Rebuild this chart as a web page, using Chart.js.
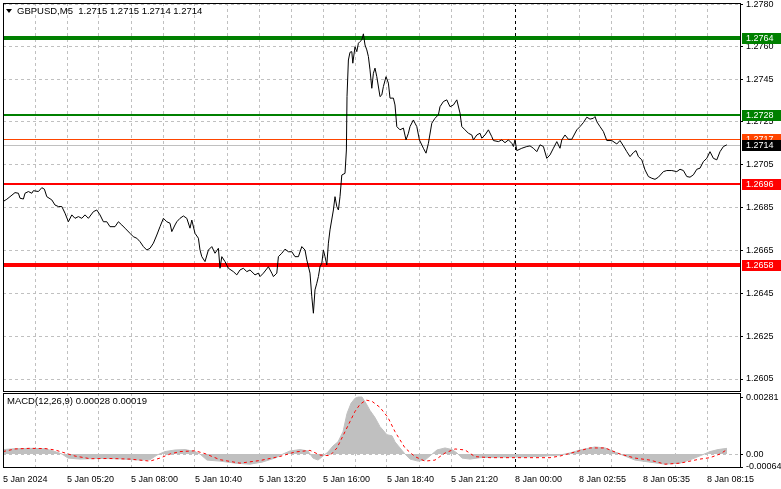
<!DOCTYPE html>
<html>
<head>
<meta charset="utf-8">
<script src="https://cdn.jsdelivr.net/npm/chart.js@4.4.1/dist/chart.umd.min.js"></script>
<style>
  html, body { margin: 0; padding: 0; background: #fff; }
  #wrap { position: relative; width: 781px; height: 489px; overflow: hidden; }
  #priceBox { position: absolute; left: 0; top: 0; width: 781px; height: 392px; }
  #macdBox { position: absolute; left: 0; top: 392px; width: 781px; height: 97px; }
</style>
</head>
<body>
<div id="wrap">
  <div id="priceBox"><canvas id="priceChart"></canvas></div>
  <div id="macdBox"><canvas id="macdChart"></canvas></div>
</div>
<script>
// GBPUSD M5, 5 Jan - 8 Jan 2024. x is the bar number (one bar = 5 minutes)
const symbolTitle = "GBPUSD,M5  1.2715 1.2715 1.2714 1.2714";
const macdTitle = "MACD(12,26,9) 0.00028 0.00019";

const timeLabels = ["5 Jan 2024", "5 Jan 05:20", "5 Jan 08:00", "5 Jan 10:40", "5 Jan 13:20", "5 Jan 16:00",
  "5 Jan 18:40", "5 Jan 21:20", "8 Jan 00:00", "8 Jan 02:55", "8 Jan 05:35", "8 Jan 08:15"];
const priceTicks = [1.2605, 1.2625, 1.2645, 1.2665, 1.2685, 1.2705, 1.2725, 1.2745, 1.2760, 1.2780];
const macdTicks = [-0.00064, 0, 0.00281];

const priceBars = [
  0, 1.9, 3.5, 6, 7.7, 8.5, 10.2, 11, 12.7, 14.4,
  15.2, 17.7, 19.4, 20.7, 21.9, 24.4, 26, 27.7, 29.4, 31,
  32.7, 34.4, 36, 37.7, 39.4, 41, 42.7, 45.2, 46.9, 48.5,
  50.2, 51.9, 53.5, 56, 57.7, 59.4, 61, 63.5, 65.2, 66.9,
  68.5, 70.2, 71.9, 73.5, 75.2, 76.9, 78.5, 80.2, 81.9, 83.5,
  84.4, 86, 86.9, 88.5, 90.2, 91.9, 93.5, 94.4, 96, 97.7,
  98.5, 99.4, 101, 102.7, 104.4, 106, 107.7, 108.5, 109.4, 111,
  112.7, 115.2, 116.9, 118.5, 120.2, 121.9, 123.5, 126, 127.7, 128.5,
  130.2, 132.7, 134.4, 135.2, 136.9, 137.7, 139.4, 141, 142.7, 144.4,
  146, 147.7, 149.4, 151, 151.9, 153.5, 154.4, 155.2, 156, 156.9,
  157.7, 158.5, 159.4, 160.2, 161, 161.9, 162.7, 163.5, 165.2, 166,
  166.9, 167.7, 168.5, 169.4, 171, 171.7, 172, 172.7, 173.5, 174.4,
  174.9, 176, 176.9, 177.7, 178.5, 179.4, 180.2, 181, 181.9, 182.7,
  183.5, 184.4, 185.2, 186, 186.9, 188.5, 189.4, 190.2, 191.5, 192.7,
  193.5, 195.2, 196, 196.9, 198.5, 200.2, 201.5, 202.7, 203.5, 205.2,
  206, 206.9, 208.2, 210.2, 211.5, 212.7, 214.4, 216, 217.7, 218.5,
  220.2, 221.9, 223.5, 225.2, 226.9, 228.5, 229.4, 231, 232.7, 234.4,
  235.2, 236.9, 238.5, 239.4, 241, 242.7, 244.4, 245.2, 247.7, 249.4,
  251, 252.7, 254.4, 255.2, 256, 256.9, 259.4, 261.9, 263.5, 265.2,
  266.9, 268.5, 270.2, 271.9, 273.5, 275.2, 276.9, 278.5, 279.4, 281,
  282.7, 284.4, 286.9, 288.5, 290.2, 291.9, 293.5, 295.2, 296, 296.9,
  298.5, 300.2, 301.9, 304.4, 306.9, 308.5, 310.2, 311.9, 313.5, 315.2,
  316.5, 317.7, 319.4, 321, 322.7, 324.4, 326, 327.7, 330.2, 331.9,
  334.4, 336.9, 338.5, 340.2, 341.9, 343.5, 345.2, 346.9, 348.5, 350.2,
  351.9, 353.5, 355.2, 356.9, 358.5, 360.2, 361.9
];
const priceValues = [
  1.26878, 1.26889, 1.26901, 1.26920, 1.26917, 1.26894, 1.26890, 1.26917, 1.26925, 1.26917,
  1.26929, 1.26925, 1.26943, 1.26936, 1.26901, 1.26886, 1.26862, 1.26855, 1.26855, 1.26824,
  1.26784, 1.26816, 1.26800, 1.26808, 1.26800, 1.26816, 1.26800, 1.26831, 1.26839, 1.26816,
  1.26784, 1.26784, 1.26761, 1.26761, 1.26784, 1.26769, 1.26754, 1.26730, 1.26714, 1.26707,
  1.26691, 1.26668, 1.26652, 1.26660, 1.26684, 1.26722, 1.26761, 1.26800, 1.26784, 1.26777,
  1.26738, 1.26769, 1.26784, 1.26800, 1.26811, 1.26800, 1.26754, 1.26792, 1.26730, 1.26707,
  1.26652, 1.26621, 1.26598, 1.26652, 1.26668, 1.26637, 1.26660, 1.26567, 1.26621, 1.26598,
  1.26567, 1.26551, 1.26536, 1.26559, 1.26567, 1.26551, 1.26559, 1.26536, 1.26544, 1.26528,
  1.26544, 1.26574, 1.26544, 1.26528, 1.26544, 1.26621, 1.26637, 1.26656, 1.26644, 1.26644,
  1.26621, 1.26621, 1.26668, 1.26652, 1.26606, 1.26544, 1.26434, 1.26357, 1.26466, 1.26497,
  1.26528, 1.26574, 1.26590, 1.26652, 1.26621, 1.26582, 1.26684, 1.26746, 1.26839, 1.26901,
  1.26855, 1.26839, 1.26901, 1.27002, 1.27010, 1.27119, 1.27368, 1.27539, 1.27575, 1.27578,
  1.27524, 1.27601, 1.27578, 1.27617, 1.27625, 1.27633, 1.27661, 1.27609, 1.27586, 1.27555,
  1.27493, 1.27407, 1.27477, 1.27501, 1.27461, 1.27368, 1.27376, 1.27415, 1.27461, 1.27431,
  1.27361, 1.27361, 1.27329, 1.27228, 1.27213, 1.27221, 1.27166, 1.27197, 1.27228, 1.27259,
  1.27244, 1.27228, 1.27166, 1.27127, 1.27104, 1.27150, 1.27244, 1.27267, 1.27283, 1.27321,
  1.27345, 1.27353, 1.27321, 1.27329, 1.27353, 1.27291, 1.27228, 1.27213, 1.27197, 1.27189,
  1.27166, 1.27189, 1.27197, 1.27174, 1.27189, 1.27213, 1.27181, 1.27163, 1.27158, 1.27166,
  1.27153, 1.27166, 1.27150, 1.27135, 1.27166, 1.27116, 1.27127, 1.27135, 1.27138, 1.27127,
  1.27111, 1.27143, 1.27135, 1.27080, 1.27096, 1.27127, 1.27158, 1.27127, 1.27166, 1.27189,
  1.27169, 1.27169, 1.27213, 1.27228, 1.27247, 1.27272, 1.27263, 1.27267, 1.27275, 1.27251,
  1.27228, 1.27205, 1.27163, 1.27163, 1.27147, 1.27163, 1.27138, 1.27111, 1.27088, 1.27107,
  1.27116, 1.27088, 1.27073, 1.27026, 1.26995, 1.26987, 1.26982, 1.26992, 1.27018, 1.27023,
  1.27023, 1.27018, 1.27029, 1.27023, 1.26995, 1.26992, 1.27003, 1.27029, 1.27034, 1.27065,
  1.27080, 1.27111, 1.27080, 1.27073, 1.27111, 1.27135, 1.27143
];

const resistanceLevels = [1.2764, 1.2728];
const supportLevels = [1.2696, 1.2658];
const askPrice = 1.2717;
const bidPrice = 1.2714;

const macdBars = [
  0, 6, 13.5, 21, 26, 29.5, 32.5, 38.5, 48.5, 58.5,
  68.5, 73.5, 77, 81, 86, 91, 96, 98.5, 102, 108.5,
  116, 123.5, 129.5, 136, 140, 143.5, 148.5, 152.5, 155, 157.5,
  160, 162.5, 165, 167.5, 170, 172, 174, 176, 177.5, 179.5,
  181.5, 183.5, 186, 188.5, 192, 194.5, 196, 198.5, 201, 203.5,
  207.5, 211, 214, 217, 221, 224.5, 227, 229.5, 233.5, 238.5,
  248.5, 258.5, 268.5, 278.5, 283.5, 288.5, 296, 301, 306, 311,
  316, 323.5, 331, 338.5, 344.5, 349.5, 353.5, 357.5, 362
];
const macdValues = [
  0.00022, 0.00026, 0.00028, 0.00026, 0.00012, 0, -0.0002, -0.00025, -0.00022, -0.00024,
  -0.0003, -0.00028, -0.00005, 0.00012, 0.0002, 0.00022, 0.00012, 0, -0.0003, -0.00035,
  -0.00045, -0.0005, -0.0004, -0.0002, 0, 0.00015, 0.00022, 0.00015, -0.0002, -0.0003,
  -0.0001, 0.0001, 0.0004, 0.0006, 0.0011, 0.002, 0.0025, 0.00275, 0.00281, 0.00281,
  0.0025, 0.00215, 0.0018, 0.00135, 0.00095, 0.0009, 0.0006, 0.0003, 0, -0.00025,
  -0.00035, -0.0003, -0.00005, 0.0002, 0.0003, 0.00022, 0.00005, -0.0002, -0.00025, -0.00018,
  -0.00015, -0.00015, -0.00012, -0.00005, 0.00005, 0.0002, 0.00035, 0.0003, 0.0001, -0.0001,
  -0.0003, -0.0004, -0.0005, -0.00045, -0.00025, -0.00005, 0.00012, 0.00022, 0.00028
];
const signalBars = [
  0, 6, 13.5, 21, 26, 31, 36, 43.5, 53.5, 63.5,
  73.5, 78.5, 83.5, 88.5, 96, 101, 108.5, 118.5, 128.5, 138.5,
  146, 153.5, 158.5, 163.5, 167, 171, 173.5, 176, 178.5, 181.5,
  184.5, 188.5, 192.5, 196, 198.5, 201, 206, 211, 216, 221,
  226, 231, 236, 243.5, 258.5, 273.5, 278.5, 286, 293.5, 301,
  308.5, 316, 323.5, 331, 338.5, 348.5, 353.5, 358.5, 361.5
];
const signalValues = [
  0.00012, 0.00025, 0.00028, 0.00027, 0.0002, 0.00005, -0.0001, -0.00023, -0.00022, -0.00025,
  -0.00035, -0.0002, 0, 0.00012, 0.00016, 0.00002, -0.00028, -0.00045, -0.00032, -0.00012,
  0.0001, 0.00018, -0.00005, -0.00008, 0.0003, 0.0011, 0.0016, 0.0021, 0.00245, 0.00266,
  0.0026, 0.0023, 0.0018, 0.0011, 0.0007, 0.0003, -0.00013, -0.00035, -0.0003, 0.00005,
  0.00025, 0.0002, -0.00013, -0.00018, -0.00018, -0.00018, -0.0001, 0.0001, 0.0003, 0.0003,
  0, -0.0002, -0.0003, -0.0005, -0.00045, -0.00025, -0.00018, 0, 0.00019
];

Chart.defaults.font.family = "'Liberation Sans', Arial, sans-serif";
Chart.defaults.font.size = 9;
Chart.defaults.color = "#000";

const GRID = "#c0c0c0";
const LAST_BAR = 368.5;
const toPoints = (xs, ys) => xs.map((x, i) => ({ x: x, y: ys[i] }));
const noOverhang = axis => {
  axis.paddingTop = 0; axis.paddingBottom = 0;
  axis.paddingLeft = 0; axis.paddingRight = 0;
};

function timeAxis(showLabels) {
  return {
    type: "linear", min: 0, max: LAST_BAR,
    afterBuildTicks: axis => {
      const t = [];
      for (let v = 0; v <= 352; v += 16) t.push({ value: v });
      axis.ticks = t;
    },
    afterFit: axis => { axis.height = showLabels ? 22 : 0; noOverhang(axis); },
    grid: { color: c => (c.tick && c.tick.value === 256 ? "#000" : GRID), drawTicks: false },
    border: { display: false, dash: [3, 3] },
    ticks: {
      display: showLabels, autoSkip: false, maxRotation: 0, align: "start", padding: 7,
      callback: v => (v % 32 === 0 ? timeLabels[v / 32] : "")
    }
  };
}

// horizontal price levels: value -> colour / thickness
function levelList() {
  const out = [];
  out.push({ v: resistanceLevels[0], c: "#008000", w: 4 });
  out.push({ v: resistanceLevels[1], c: "#008000", w: 2 });
  out.push({ v: supportLevels[0], c: "#ff0000", w: 2 });
  out.push({ v: supportLevels[1], c: "#ff0000", w: 4 });
  out.push({ v: askPrice, c: "#ff4500", w: 1 });
  out.push({ v: bidPrice, c: "#c0c0c0", w: 1 });
  return out;
}

const levelPlugin = {
  id: "levels",
  beforeDatasetsDraw(chart) {
    const { ctx, chartArea: a, scales: { y } } = chart;
    ctx.save();
    ctx.beginPath();
    ctx.rect(a.left, a.top, a.right - a.left, a.bottom - a.top);
    ctx.clip();
    levelList().forEach(l => {
      const py = y.getPixelForValue(l.v);
      const yy = l.w % 2 ? Math.floor(py) + 0.5 : Math.round(py);
      ctx.strokeStyle = l.c;
      ctx.lineWidth = l.w;
      ctx.beginPath();
      ctx.moveTo(a.left, yy);
      ctx.lineTo(a.right + 1, yy);
      ctx.stroke();
    });
    ctx.restore();
  },
  afterDraw(chart) {
    const { ctx, chartArea: a, scales: { y } } = chart;
    const tags = levelList().map(l => ({ v: l.v, bg: l.c === "#c0c0c0" ? "#000000" : l.c }));
    ctx.save();
    ctx.font = "9px 'Liberation Sans', Arial, sans-serif";
    ctx.textBaseline = "middle";
    tags.forEach(t => {
      const py = Math.round(y.getPixelForValue(t.v));
      ctx.fillStyle = t.bg;
      ctx.fillRect(a.right + 2, py - 5, 781 - a.right - 2, 11);
      ctx.fillStyle = "#fff";
      ctx.fillText(t.v.toFixed(4), 746, py + 0.5);
    });
    // header
    ctx.fillStyle = "#000";
    ctx.beginPath();
    ctx.moveTo(6, 9); ctx.lineTo(12, 9); ctx.lineTo(9, 13); ctx.closePath();
    ctx.fill();
    ctx.font = "9.5px 'Liberation Sans', Arial, sans-serif";
    ctx.fillText(symbolTitle, 17, 11);
    ctx.restore();
  }
};

const framePlugin = {
  id: "frame",
  afterDraw(chart) {
    const { ctx, chartArea: a } = chart;
    ctx.save();
    ctx.strokeStyle = "#000";
    ctx.lineWidth = 1;
    ctx.strokeRect(a.left + 0.5, a.top + 0.5, a.right - a.left, a.bottom - a.top);
    ctx.restore();
  }
};

const macdTextPlugin = {
  id: "macdText",
  afterDraw(chart) {
    const { ctx } = chart;
    ctx.save();
    ctx.fillStyle = "#000";
    ctx.font = "9.5px 'Liberation Sans', Arial, sans-serif";
    ctx.textBaseline = "middle";
    ctx.fillText(macdTitle, 7, 9);
    ctx.restore();
  }
};

const priceChart = new Chart("priceChart", {
  type: "line",
  data: {
    datasets: [
      { data: toPoints(priceBars, priceValues), borderColor: "#000", borderWidth: 1 }
    ]
  },
  options: {
    responsive: true, maintainAspectRatio: false, animation: false,
    layout: { padding: { left: 3, top: 3, right: 0, bottom: 1 } },
    elements: { point: { radius: 0 }, line: { tension: 0 } },
    plugins: { legend: { display: false }, tooltip: { enabled: false } },
    scales: {
      x: timeAxis(false),
      y: {
        position: "right", min: 1.25994, max: 1.27805,
        afterBuildTicks: axis => { axis.ticks = priceTicks.map(v => ({ value: v })); },
        afterFit: axis => { axis.width = 41; noOverhang(axis); },
        grid: { color: GRID, tickLength: 3, tickColor: "#000", tickBorderDash: [] },
        border: { display: false, dash: [3, 3] },
        ticks: { padding: 3, callback: v => v.toFixed(4) }
      }
    }
  },
  plugins: [levelPlugin, framePlugin]
});

const macdChart = new Chart("macdChart", {
  type: "line",
  data: {
    datasets: [
      { data: toPoints(signalBars, signalValues), borderColor: "#ff0000", borderWidth: 1, borderDash: [3, 3] },
      { data: toPoints(macdBars, macdValues), borderColor: "#c0c0c0", backgroundColor: "#c0c0c0",
        borderWidth: 1, fill: "origin" }
    ]
  },
  options: {
    responsive: true, maintainAspectRatio: false, animation: false,
    layout: { padding: { left: 3, top: 1, right: 0, bottom: 0 } },
    elements: { point: { radius: 0 }, line: { tension: 0 } },
    plugins: { legend: { display: false }, tooltip: { enabled: false } },
    scales: {
      x: timeAxis(true),
      y: {
        position: "right", min: -0.00064, max: 0.00301,
        afterBuildTicks: axis => { axis.ticks = macdTicks.map(v => ({ value: v })); },
        afterFit: axis => { axis.width = 41; noOverhang(axis); },
        grid: { color: c => (c.tick && c.tick.value === 0 ? GRID : "rgba(0,0,0,0)"),
          tickLength: 3, tickColor: "#000", tickBorderDash: [] },
        border: { display: false, dash: [3, 3] },
        ticks: { padding: 3, callback: v => (v === 0 ? "0.00" : v.toFixed(5)) }
      }
    }
  },
  plugins: [macdTextPlugin, framePlugin]
});
</script>
</body>
</html>
